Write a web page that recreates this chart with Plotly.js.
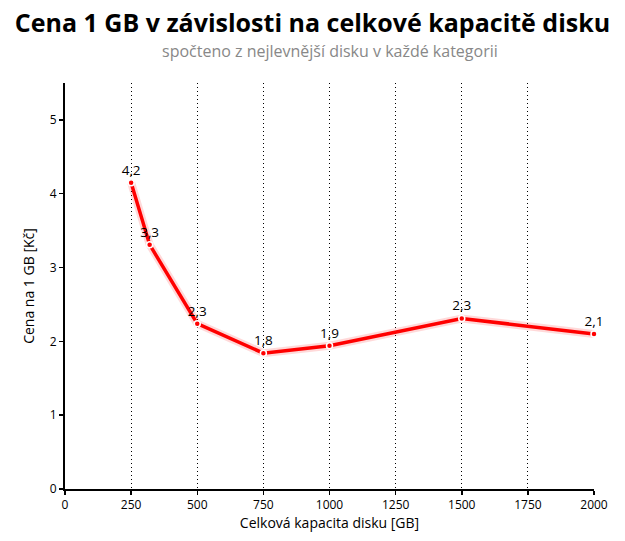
<!DOCTYPE html>
<html><head><meta charset="utf-8">
<script src="https://cdn.plot.ly/plotly-3.0.1.min.js"></script>
<style>html,body{margin:0;padding:0;background:#fff}#chart{width:625px;height:541px}</style>
</head><body><div id="chart"></div>
<script>
const capacityGB = [250, 320, 500, 750, 1000, 1500, 2000];
const pricePerGB = [4.15, 3.31, 2.24, 1.84, 1.94, 2.31, 2.10];
const pointLabels = ["4,2", "3,3", "2,3", "1,8", "1,9", "2,3", "2,1"];
const xTicks = [0, 250, 500, 750, 1000, 1250, 1500, 1750, 2000];
const yTicks = [0, 1, 2, 3, 4, 5];

const font = "'Open Sans', 'DejaVu Sans', sans-serif";
const traces = [
  {x: capacityGB, y: pricePerGB, mode: 'lines', line: {color: 'rgba(255,0,0,0.15)', width: 8}, hoverinfo: 'skip', showlegend: false, cliponaxis: false},
  {x: capacityGB, y: pricePerGB, mode: 'lines+markers+text', text: pointLabels, textposition: 'top center',
   textfont: {family: font, size: 13.5, color: '#000'}, cliponaxis: false,
   line: {color: '#ff0000', width: 3.5},
   marker: {color: '#ff0000', size: 6, line: {color: '#fff', width: 1.5}}, showlegend: false}
];
const layout = {
  width: 625, height: 541,
  margin: {l: 65, r: 31, t: 83, b: 52},
  paper_bgcolor: '#fff', plot_bgcolor: '#fff',
  font: {family: font, color: '#000', size: 12},
  title: {text: 'Cena 1 GB v závislosti na celkové kapacitě disku', font: {family: font, size: 25, color: '#000', weight: 'bold'}, x: 0.5, xanchor: 'center', y: 0.9575, yanchor: 'middle'},
  annotations: [{text: 'spočteno z nejlevnější disku v každé kategorii', xref: 'paper', yref: 'paper', x: 0.5, y: 1, xanchor: 'center', yanchor: 'bottom', yshift: 19, showarrow: false, font: {family: font, size: 16, color: '#888'}}],
  xaxis: {range: [0, 2000], tickvals: xTicks, ticktext: xTicks.map(String), showline: true, linecolor: '#000', linewidth: 2,
    ticks: 'outside', ticklen: 4, tickcolor: '#000', tickwidth: 1.5, showgrid: true, gridcolor: '#000', griddash: '1px,3px', gridwidth: 1,
    zeroline: false, tickfont: {family: font, size: 12},
    title: {text: 'Celková kapacita disku [GB]', font: {family: font, size: 14}, standoff: 6}},
  yaxis: {range: [0, 5.5], tickvals: yTicks, showline: true, linecolor: '#000', linewidth: 2, ticks: 'outside', ticklen: 4,
    tickcolor: '#000', tickwidth: 1.5, showgrid: false, zeroline: false, tickfont: {family: font, size: 12},
    title: {text: 'Cena na 1 GB [Kč]', font: {family: font, size: 14}, standoff: 12}}
};
Plotly.newPlot('chart', traces, layout, {displayModeBar: false, staticPlot: true});
</script></body></html>
